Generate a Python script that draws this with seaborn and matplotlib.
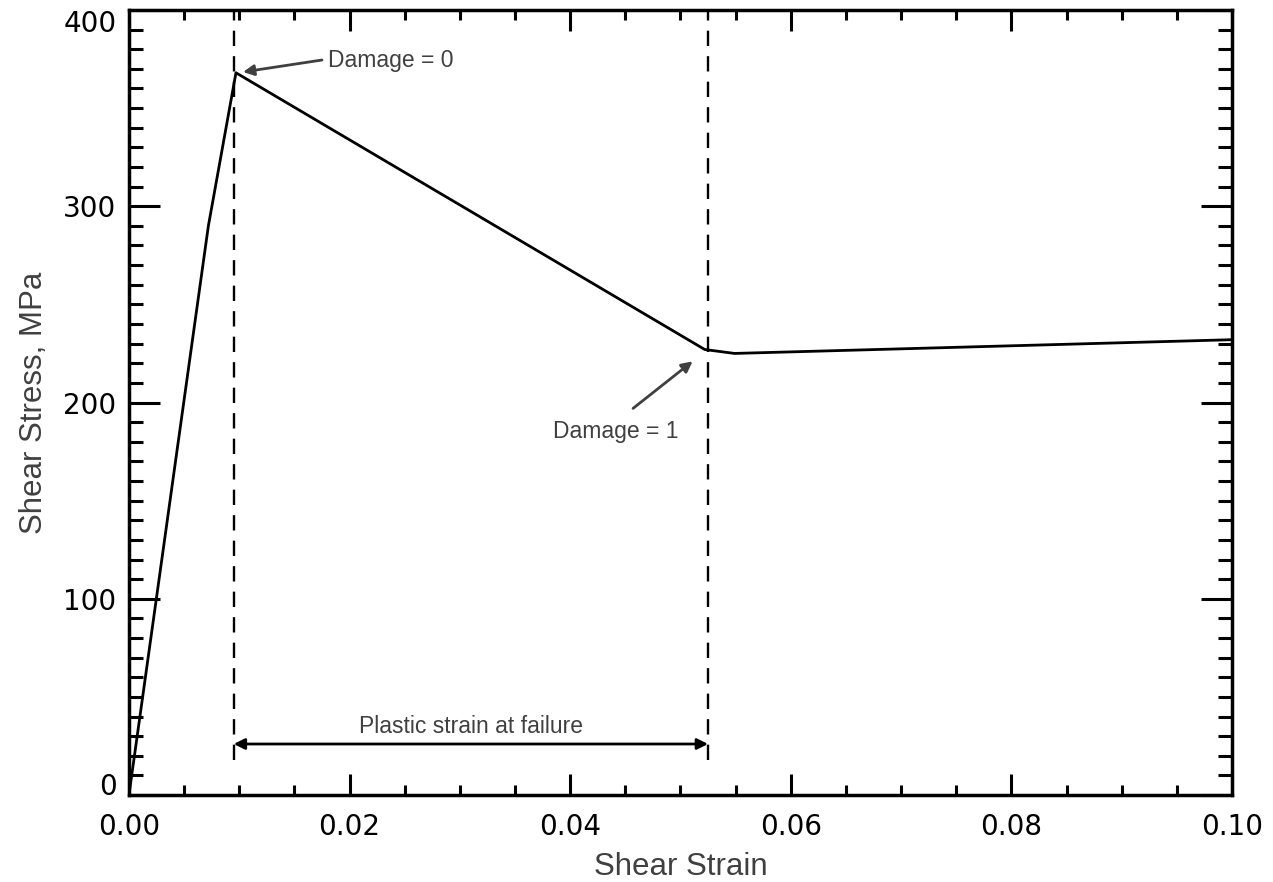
import numpy as np
import pandas as pd
import seaborn as sns
import matplotlib.pyplot as plt
from matplotlib.ticker import MultipleLocator

# stress-strain curve
strain = [0.0, 0.0072, 0.0097, 0.0522, 0.0549, 0.10]
stress = [0.0, 290.0, 368.0, 227.0, 225.0, 232.0]

# damage markers
damage_strain = [0.0095, 0.0525]
dashed_bottom = 18
arrow_level = 26

y_ticks = [0, 100, 200, 300, 400]
y_labels = ["0", "100", "200", "300", "400"]

def main():
    sns.set_theme(style="ticks", context="notebook")
    plt.rcParams['font.family'] = ['Liberation Sans', 'DejaVu Sans']

    df = pd.DataFrame({"strain": strain, "stress": stress})

    fig = plt.figure(figsize=(12.73, 8.82), dpi=100)
    ax = fig.add_axes([0.1013, 0.0986, 0.8665, 0.8901])

    sns.lineplot(data=df, x="strain", y="stress", color="black", linewidth=2.0, ax=ax, legend=None)

    for xd in damage_strain:
        ax.plot([xd, xd], [dashed_bottom, 400], color="black", linewidth=1.7,
                dashes=(6.5, 4.3), clip_on=False)

    grey = "#404040"
    arrow_kw = dict(arrowstyle="-|>", color=grey, lw=2.0, mutation_scale=16, shrinkA=0, shrinkB=0)

    ax.annotate("", xy=(0.01034, 368.4), xytext=(0.0175, 374.5), arrowprops=arrow_kw)
    ax.text(0.0180, 374, "Damage = 0", fontsize=16.5, color=grey, va="center", ha="left")

    ax.annotate("", xy=(0.0511, 221), xytext=(0.0457, 197), arrowprops=arrow_kw)
    ax.text(0.0441, 185, "Damage = 1", fontsize=16.5, color=grey, va="center", ha="center")

    ax.annotate("", xy=(damage_strain[0], arrow_level), xytext=(damage_strain[1], arrow_level),
                arrowprops=dict(arrowstyle="<|-|>", color="black", lw=2.0, mutation_scale=16,
                                shrinkA=0, shrinkB=0))
    ax.text(sum(damage_strain) / 2, 35, "Plastic strain at failure",
            fontsize=16.5, color=grey, ha="center", va="center")

    ax.set_xlim(0, 0.10)
    ax.set_ylim(0, 400)
    ax.xaxis.set_major_locator(MultipleLocator(0.02))
    ax.xaxis.set_minor_locator(MultipleLocator(0.005))
    ax.set_yticks(y_ticks, y_labels)
    ax.yaxis.set_minor_locator(MultipleLocator(10))
    ax.xaxis.set_major_formatter(plt.FormatStrFormatter("%.2f"))

    ax.tick_params(axis="both", which="both", direction="in", top=True, right=True,
                   colors="black", labelsize=20)
    ax.tick_params(axis="x", which="major", length=15, width=2.2, pad=13)
    ax.tick_params(axis="x", which="minor", length=7, width=2.2)
    ax.tick_params(axis="y", which="major", length=22, width=2.2, pad=9)
    ax.tick_params(axis="y", which="minor", length=10, width=2.2)
    for lab in ax.get_xticklabels() + ax.get_yticklabels():
        lab.set_family(['DejaVu Sans'])
    # end labels sit inside the axis range, as in the original
    yt = ax.yaxis.get_major_ticks()
    yt[0].label1.set_verticalalignment("baseline")
    yt[-1].label1.set_verticalalignment("top")
    for sp in ax.spines.values():
        sp.set_linewidth(2.5)
        sp.set_color("black")

    ax.set_xlabel("Shear Strain", fontsize=22.5, color=grey, labelpad=8)
    ax.set_ylabel("Shear Stress, MPa", fontsize=22.5, color=grey, labelpad=10)

    fig.savefig("out.png", dpi=100, facecolor="white")

if __name__ == "__main__":
    main()
